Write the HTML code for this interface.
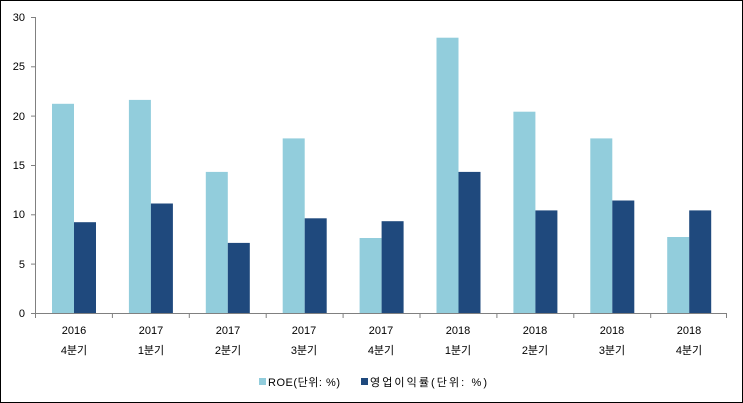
<!DOCTYPE html><html><head><meta charset="utf-8"><style>body{margin:0;background:#fff}svg{display:block}text{font-family:"Liberation Sans","Noto Sans CJK KR",sans-serif;font-size:11px;fill:#000}</style></head><body>
<svg width="743" height="403" viewBox="0 0 743 403">
<rect x="0.5" y="0.5" width="742" height="402" fill="#fff" stroke="#000"/>
<g fill="#92CDDC">
<rect x="52" y="103.8" width="22" height="209.2"/>
<rect x="128.9" y="99.9" width="22" height="213.1"/>
<rect x="205.8" y="171.9" width="22" height="141.1"/>
<rect x="282.7" y="138.4" width="22" height="174.6"/>
<rect x="359.6" y="238" width="22" height="75"/>
<rect x="436.5" y="37.7" width="22" height="275.3"/>
<rect x="513.4" y="111.7" width="22" height="201.3"/>
<rect x="590.3" y="138.4" width="22" height="174.6"/>
<rect x="667.2" y="237" width="22" height="76"/>
</g>
<g fill="#1F497D">
<rect x="74" y="222.2" width="22" height="90.8"/>
<rect x="150.9" y="203.5" width="22" height="109.5"/>
<rect x="227.8" y="242.9" width="22" height="70.1"/>
<rect x="304.7" y="218.3" width="22" height="94.7"/>
<rect x="381.6" y="221.2" width="22" height="91.8"/>
<rect x="458.5" y="171.9" width="22" height="141.1"/>
<rect x="535.4" y="210.4" width="22" height="102.6"/>
<rect x="612.3" y="200.5" width="22" height="112.5"/>
<rect x="689.2" y="210.4" width="22" height="102.6"/>
</g>
<g stroke="#808080" stroke-width="1">
<line x1="35.5" y1="17" x2="35.5" y2="313"/>
<line x1="35" y1="313.5" x2="727" y2="313.5"/>
<line x1="31" y1="17.5" x2="35" y2="17.5"/><line x1="31" y1="66.8" x2="35" y2="66.8"/><line x1="31" y1="116.1" x2="35" y2="116.1"/><line x1="31" y1="165.5" x2="35" y2="165.5"/><line x1="31" y1="214.8" x2="35" y2="214.8"/><line x1="31" y1="264.1" x2="35" y2="264.1"/><line x1="31" y1="313.5" x2="35" y2="313.5"/>
<line x1="35.5" y1="313" x2="35.5" y2="318"/><line x1="112.4" y1="313" x2="112.4" y2="318"/><line x1="189.3" y1="313" x2="189.3" y2="318"/><line x1="266.2" y1="313" x2="266.2" y2="318"/><line x1="343.1" y1="313" x2="343.1" y2="318"/><line x1="420" y1="313" x2="420" y2="318"/><line x1="496.9" y1="313" x2="496.9" y2="318"/><line x1="573.8" y1="313" x2="573.8" y2="318"/><line x1="650.7" y1="313" x2="650.7" y2="318"/><line x1="726.5" y1="313" x2="726.5" y2="318"/>
</g>
<g text-anchor="end">
<text x="25" y="21">30</text><text x="25" y="70">25</text><text x="25" y="120">20</text><text x="25" y="169">15</text><text x="25" y="218">10</text><text x="25" y="268">5</text><text x="25" y="317">0</text>
</g>
<g text-anchor="middle">
<text x="74" y="334">2016</text><text x="74" y="354">4분기</text>
<text x="151" y="334">2017</text><text x="151" y="354">1분기</text>
<text x="228" y="334">2017</text><text x="228" y="354">2분기</text>
<text x="304" y="334">2017</text><text x="304" y="354">3분기</text>
<text x="381" y="334">2017</text><text x="381" y="354">4분기</text>
<text x="458" y="334">2018</text><text x="458" y="354">1분기</text>
<text x="535" y="334">2018</text><text x="535" y="354">2분기</text>
<text x="612" y="334">2018</text><text x="612" y="354">3분기</text>
<text x="689" y="334">2018</text><text x="689" y="354">4분기</text>
</g>
<rect x="259" y="378" width="7" height="7" fill="#92CDDC"/>
<text x="268" y="386" textLength="72">ROE(단위: %)</text>
<rect x="361" y="378" width="7" height="7" fill="#1F497D"/>
<text x="370" y="386" textLength="117">영업이익률(단위: %)</text>
</svg></body></html>
